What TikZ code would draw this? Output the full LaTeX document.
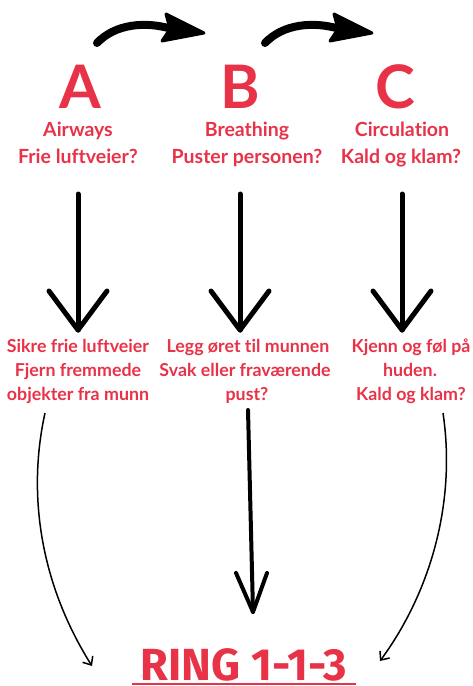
\documentclass[tikz,border=0pt]{standalone}
\usepackage{fontspec}
\setmainfont{Lato}[Ligatures=NoCommon]
\newfontfamily\ringfont{Fira Sans}
\usetikzlibrary{arrows.meta}
\definecolor{abcred}{RGB}{232,50,72}
\tikzset{
  big/.style={text=abcred,font=\fontsize{60}{60}\selectfont\bfseries,anchor=base,inner sep=0pt},
  head/.style={text=abcred,font=\fontsize{19.5}{20}\selectfont\bfseries,anchor=base,inner sep=0pt},
  sub/.style={text=abcred,font=\fontsize{17.8}{20}\selectfont\bfseries,anchor=base,inner sep=0pt},
  thickarrow/.style={line width=8pt,line cap=round},
  downline/.style={line width=5pt,line cap=round,line join=round},
  thincurve/.style={line width=1.5pt,-{Straight Barb[length=7pt,width=12pt,line width=1.5pt]}},
}
\begin{document}
\begin{tikzpicture}[x=1pt,y=-1pt]
\useasboundingbox (0,0) rectangle (473,686);
\clip (0,0) rectangle (473,686);
% letters
\node[big] (A) at (80,108) {A};
\node[big] (B) at (240,108) {B};
\node[big] (C) at (395,108) {C};
% headings
\node[head] (a1) at (78,136) {Airways};
\node[head] (a2) at (78,163) {Frie luftveier?};
\node[head] (b1) at (247,136) {Breathing};
\node[head] (b2) at (247,163) {Puster personen?};
\node[head] (c1) at (402,136) {Circulation};
\node[head] (c2) at (401,163) {Kald og klam?};
% sub texts
\node[sub] (s1) at (78,352) {Sikre frie luftveier};
\node[sub] (s2) at (78,376) {Fjern fremmede};
\node[sub] (s3) at (78,400) {objekter fra munn};
\node[sub] (t1) at (248,352) {Legg øret til munnen};
\node[sub] (t2) at (245,376) {Svak eller fraværende};
\node[sub] (t3) at (247,400) {pust?};
\node[sub] (u1) at (411,352) {Kjenn og føl på};
\node[sub] (u2) at (410,376) {huden.};
\node[sub] (u3) at (411,400) {Kald og klam?};
% ring
\node[text=abcred,anchor=base,inner sep=0pt,font=\ringfont\fontsize{45}{45}\selectfont\bfseries] (ring) at (244,680) {RING 1-1-3};
\draw[abcred,line width=2.5pt] (132,684) -- (356,684);
% top curved arrows
\foreach \dx/\nm in {0/ab,168/bc}{
  \begin{scope}[xshift=\dx]
  \coordinate (\nm s) at (97,43);
  \coordinate (\nm e) at (172,29);
  \draw[thickarrow] (\nm s) .. controls (115,24) and (145,21) .. (\nm e);
  \fill[line join=round,line width=3pt,draw] (166,14) -- (204,33) -- (162,41) -- (170,29) -- cycle;
  \end{scope}
}
% down arrows
\foreach \x/\nm in {78/A,240/B,402/C}{
  \coordinate (\nm top) at (\x,194);
  \coordinate (\nm tip) at (\x,330);
  \draw[downline] (\nm top) -- (\nm tip);
  \draw[downline] (\x-29,291) -- (\nm tip) -- (\x+29,291);
}
% bottom arrows
\coordinate (ls) at (45,413);
\coordinate (le) at (92,666);
\draw[thincurve] (ls) .. controls (28,490) and (38,580) .. (le);
\coordinate (rs) at (443,413);
\coordinate (re) at (380,661);
\draw[thincurve] (rs) .. controls (456,500) and (432,590) .. (re);
\coordinate (ms) at (248,410);
\coordinate (me) at (253,612);
\draw[line width=4pt,line cap=round] (ms) -- (me);
\draw[line width=4pt,line cap=round,line join=round] (236,573) -- (me) -- (267,573);
\end{tikzpicture}
\end{document}
